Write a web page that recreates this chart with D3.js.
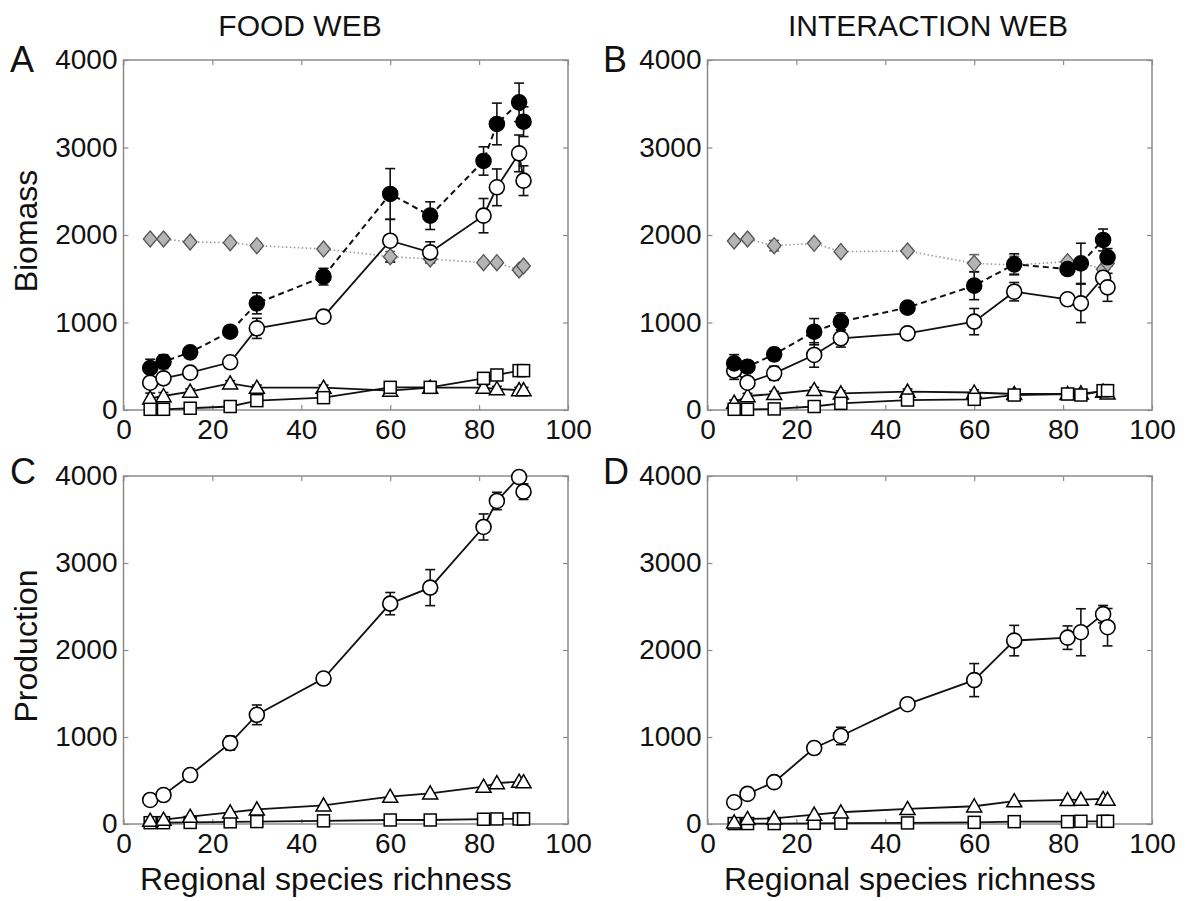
<!DOCTYPE html>
<html>
<head>
<meta charset="utf-8">
<script src="https://cdn.jsdelivr.net/npm/d3@7"></script>
<style>
  html, body { margin: 0; padding: 0; background: #fff; }
  svg text { font-family: "Liberation Sans", Arial, Helvetica, sans-serif; fill: #111; }
</style>
</head>
<body>
<svg id="chart" width="1190" height="901"></svg>
<script>
// ---------------- data ----------------
const richness = [6, 9, 15, 24, 30, 45, 60, 69, 81, 84, 89, 90];
const xTicks = [0, 20, 40, 60, 80, 100];
const yTicks = [0, 1000, 2000, 3000, 4000];
const columnTitles = ["FOOD WEB", "INTERACTION WEB"];
const panelLetters = ["A", "B", "C", "D"];
const yTitles = ["Biomass", "Production"];
const xTitle = "Regional species richness";

// Panel A: food web biomass
const A_total = [480, 552, 659, 895, 1219, 1524, 2469, 2221, 2846, 3269, 3516, 3295];
const A_total_err = [100, 80, 50, 50, 120, 95, 290, 158, 162, 238, 220, 170];
const A_consumer = [312, 362, 427, 545, 933, 1067, 1935, 1802, 2221, 2545, 2933, 2621];
const A_consumer_err = [40, 60, 50, 40, 115, 40, 244, 120, 196, 210, 210, 170];
const A_resource = [1954, 1954, 1920, 1912, 1878, 1840, 1752, 1726, 1684, 1684, 1600, 1646];
const A_resource_err = [30, 30, 30, 30, 30, 30, 60, 40, 30, 30, 30, 30];
const A_tri = [133, 160, 210, 305, 255, 255, 221, 255, 255, 240, 228, 228];
const A_tri_err = [60, 40, 30, 30, 30, 30, 30, 30, 30, 30, 30, 30];
const A_sq = [8, 8, 20, 40, 107, 141, 259, 259, 362, 400, 450, 450];
const A_sq_err = [20, 20, 20, 20, 20, 30, 30, 30, 30, 30, 30, 30];

// Panel B: interaction web biomass
const B_total = [533, 495, 636, 895, 1010, 1170, 1421, 1665, 1611, 1676, 1943, 1745];
const B_total_err = [100, 60, 70, 150, 100, 60, 160, 120, 60, 230, 125, 100];
const B_consumer = [450, 312, 419, 629, 819, 876, 1010, 1352, 1265, 1219, 1512, 1402];
const B_consumer_err = [100, 60, 80, 140, 100, 60, 150, 105, 50, 220, 110, 160];
const B_resource = [1931, 1954, 1878, 1905, 1810, 1817, 1676, 1657, 1695, 1676, 1611, 1676];
const B_resource_err = [30, 30, 60, 30, 30, 30, 100, 100, 30, 30, 30, 30];
const B_tri = [84, 160, 183, 229, 190, 210, 200, 183, 183, 190, 210, 190];
const B_tri_err = [30, 30, 30, 30, 30, 30, 30, 30, 30, 30, 30, 30];
const B_sq = [8, 8, 12, 40, 76, 114, 122, 171, 183, 171, 221, 221];
const B_sq_err = [20, 20, 20, 20, 20, 20, 20, 20, 20, 20, 20, 20];

// Panel C: food web production
const C_consumer = [276, 333, 563, 930, 1255, 1672, 2533, 2717, 3414, 3713, 3988, 3820];
const C_consumer_err = [30, 30, 50, 80, 113, 30, 128, 207, 150, 100, 40, 90];
const C_tri = [38, 50, 84, 134, 168, 214, 314, 352, 429, 471, 486, 480];
const C_sq = [15, 15, 18, 25, 28, 36, 46, 46, 55, 58, 58, 58];

// Panel D: interaction web production
const D_consumer = [250, 346, 481, 873, 1012, 1377, 1654, 2108, 2142, 2204, 2412, 2262];
const D_consumer_err = [30, 30, 30, 70, 100, 30, 190, 175, 135, 270, 100, 215];
const D_tri = [20, 58, 65, 108, 135, 173, 204, 262, 277, 281, 288, 281];
const D_sq = [5, 5, 5, 8, 10, 12, 19, 27, 27, 31, 31, 31];

// ---------------- layout ----------------
const svg = d3.select("#chart");
svg.append("rect").attr("width", 1190).attr("height", 901).attr("fill", "#fff");

const colX = [[123.5, 568], [707.5, 1152]];
const rowY = [[60, 410], [476, 824]];

const FRAME = "#8a8a8a";

function series(vals, errs, kind) { return { vals, errs, kind }; }

const panels = [
  { col: 0, row: 0, letter: panelLetters[0], list: [
      series(A_resource, A_resource_err, "diamond"),
      series(A_tri, A_tri_err, "tri"),
      series(A_sq, A_sq_err, "sq"),
      series(A_consumer, A_consumer_err, "open"),
      series(A_total, A_total_err, "filled") ] },
  { col: 1, row: 0, letter: panelLetters[1], list: [
      series(B_resource, B_resource_err, "diamond"),
      series(B_tri, B_tri_err, "tri"),
      series(B_sq, B_sq_err, "sq"),
      series(B_consumer, B_consumer_err, "open"),
      series(B_total, B_total_err, "filled") ] },
  { col: 0, row: 1, letter: panelLetters[2], list: [
      series(C_sq, null, "sq"),
      series(C_tri, null, "tri"),
      series(C_consumer, C_consumer_err, "open") ] },
  { col: 1, row: 1, letter: panelLetters[3], list: [
      series(D_sq, null, "sq"),
      series(D_tri, null, "tri"),
      series(D_consumer, D_consumer_err, "open") ] }
];

const lineStyle = {
  diamond: { stroke: "#9a9a9a", width: 1.6, dash: "1.5,2.5" },
  tri: { stroke: "#111", width: 1.8, dash: null },
  sq: { stroke: "#111", width: 1.8, dash: null },
  open: { stroke: "#111", width: 1.8, dash: null },
  filled: { stroke: "#111", width: 2, dash: "6,4" }
};

const fmt = d3.format("d");

panels.forEach(p => {
  const [x0, x1] = colX[p.col];
  const [y0, y1] = rowY[p.row];
  const x = d3.scaleLinear().domain([0, 100]).range([x0, x1]);
  const y = d3.scaleLinear().domain([0, 4000]).range([y1, y0]);
  const g = svg.append("g");

  // axes (MATLAB-style box with inward ticks)
  const axB = g.append("g").attr("transform", `translate(0,${y1})`)
    .call(d3.axisBottom(x).tickValues(xTicks).tickFormat(fmt).tickSizeInner(-5).tickSizeOuter(0).tickPadding(9));
  const axL = g.append("g").attr("transform", `translate(${x0},0)`)
    .call(d3.axisLeft(y).tickValues(yTicks).tickFormat(fmt).tickSizeInner(-5).tickSizeOuter(0).tickPadding(6));
  const axT = g.append("g").attr("transform", `translate(0,${y0})`)
    .call(d3.axisTop(x).tickValues(xTicks).tickSizeInner(-5).tickSizeOuter(0).tickFormat(""));
  const axR = g.append("g").attr("transform", `translate(${x1},0)`)
    .call(d3.axisRight(y).tickValues(yTicks).tickSizeInner(-5).tickSizeOuter(0).tickFormat(""));
  [axB, axL, axT, axR].forEach(a => {
    a.select(".domain").remove();
    a.selectAll(".tick line").attr("stroke", FRAME).attr("stroke-width", 1.2);
    a.selectAll(".tick text").attr("font-size", 28).attr("fill", "#111")
      .attr("font-family", '"Liberation Sans", Arial, sans-serif');
  });
  g.append("rect").attr("x", x0).attr("y", y0).attr("width", x1 - x0).attr("height", y1 - y0)
    .attr("fill", "none").attr("stroke", FRAME).attr("stroke-width", 1.5);

  const plot = g.append("g");

  // lines
  p.list.forEach(s => {
    const st = lineStyle[s.kind];
    const line = d3.line().x((d, i) => x(richness[i])).y(d => y(d));
    plot.append("path").datum(s.vals).attr("d", line).attr("fill", "none")
      .attr("stroke", st.stroke).attr("stroke-width", st.width)
      .attr("stroke-dasharray", st.dash);
  });
  // error bars
  p.list.forEach(s => {
    if (!s.errs) return;
    const col = s.kind === "diamond" ? "#666" : "#111";
    const eb = plot.append("g").attr("stroke", col).attr("stroke-width", 1.6);
    s.vals.forEach((v, i) => {
      const cx = x(richness[i]);
      const ya = y(v + s.errs[i]), yb = y(v - s.errs[i]);
      eb.append("line").attr("x1", cx).attr("x2", cx).attr("y1", ya).attr("y2", yb);
      eb.append("line").attr("x1", cx - 5).attr("x2", cx + 5).attr("y1", ya).attr("y2", ya);
      eb.append("line").attr("x1", cx - 5).attr("x2", cx + 5).attr("y1", yb).attr("y2", yb);
    });
  });
  // markers
  p.list.forEach(s => {
    const mg = plot.append("g");
    s.vals.forEach((v, i) => {
      const cx = x(richness[i]), cy = y(v);
      if (s.kind === "open" || s.kind === "filled") {
        mg.append("circle").attr("cx", cx).attr("cy", cy).attr("r", 7.5)
          .attr("fill", s.kind === "filled" ? "#000" : "#fff")
          .attr("stroke", "#000").attr("stroke-width", 1.6);
      } else if (s.kind === "diamond") {
        const r = 8;
        mg.append("path").attr("d", `M${cx},${cy - r}L${cx + r * 0.85},${cy}L${cx},${cy + r}L${cx - r * 0.85},${cy}Z`)
          .attr("fill", "#b4b4b4").attr("stroke", "#555").attr("stroke-width", 1.3);
      } else if (s.kind === "tri") {
        const h = 7.5;
        mg.append("path").attr("d", `M${cx},${cy - h}L${cx + h},${cy + h * 0.75}L${cx - h},${cy + h * 0.75}Z`)
          .attr("fill", "#fff").attr("stroke", "#000").attr("stroke-width", 1.5);
      } else if (s.kind === "sq") {
        const h = 6;
        mg.append("rect").attr("x", cx - h).attr("y", cy - h).attr("width", 2 * h).attr("height", 2 * h)
          .attr("fill", "#fff").attr("stroke", "#000").attr("stroke-width", 1.5);
      }
    });
  });

  // panel letter
  svg.append("text").attr("x", p.col === 0 ? 10 : 603).attr("y", p.row === 0 ? 72 : 484)
    .attr("font-size", 36).text(p.letter);

  // y title
  if (p.col === 0) {
    svg.append("text").attr("transform", `translate(37,${(y0 + y1) / 2 - 4}) rotate(-90)`)
      .attr("text-anchor", "middle").attr("font-size", 32).text(yTitles[p.row]);
  }
  // x title
  if (p.row === 1) {
    svg.append("text").attr("x", (x0 + x1) / 2 - 20).attr("y", 890)
      .attr("text-anchor", "middle").attr("font-size", 32).text(xTitle);
  }
});

// column titles
svg.append("text").attr("x", 300).attr("y", 36).attr("text-anchor", "middle")
  .attr("font-size", 30).text(columnTitles[0]);
svg.append("text").attr("x", 928).attr("y", 36).attr("text-anchor", "middle")
  .attr("font-size", 30).text(columnTitles[1]);
</script>
</body>
</html>
